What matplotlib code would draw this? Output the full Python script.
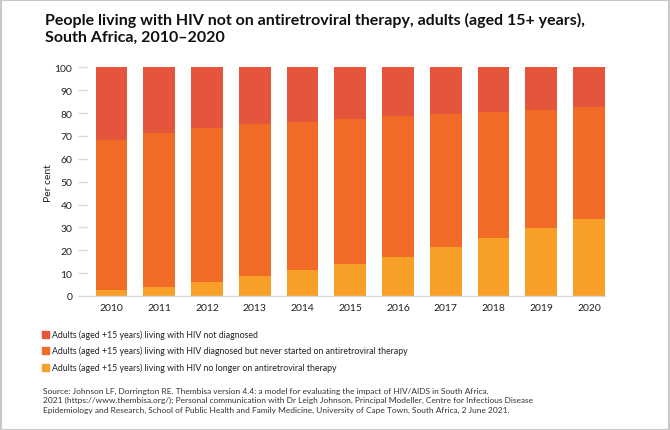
import numpy as np
import matplotlib.pyplot as plt
from matplotlib.patches import Rectangle

plt.rcParams['font.family'] = ['Lato', 'DejaVu Sans']

years = ['2010', '2011', '2012', '2013', '2014', '2015', '2016', '2017', '2018', '2019', '2020']
# cumulative tops
no_longer = [2.8, 4.1, 6.3, 8.6, 11.4, 14.0, 17.2, 21.4, 25.5, 29.7, 33.8]
diag_top = [68.4, 71.4, 73.5, 75.2, 76.1, 77.4, 78.9, 79.7, 80.3, 81.3, 82.7]
never_started = [d - n for d, n in zip(diag_top, no_longer)]
not_diagnosed = [100 - d for d in diag_top]

c_red = '#E5553B'
c_orange = '#F06C26'
c_yellow = '#F79F26'

labels = [
    'Adults (aged +15 years) living with HIV not diagnosed',
    'Adults (aged +15 years) living with HIV diagnosed but never started on antiretroviral therapy',
    'Adults (aged +15 years) living with HIV no longer on antiretroviral therapy',
]

fig = plt.figure(figsize=(6.7, 4.31), dpi=100)
ax = fig.add_axes([87 / 670, 1 - 297 / 431, (605 - 87) / 670, (297 - 68.3) / 431])

x = np.arange(len(years))
w = 0.66
ax.bar(x, no_longer, w, color=c_yellow)
ax.bar(x, never_started, w, bottom=no_longer, color=c_orange)
ax.bar(x, not_diagnosed, w, bottom=diag_top, color=c_red)

ax.set_xlim(-0.513, 10.335)
ax.set_ylim(0, 100)
ax.set_yticks(range(0, 101, 10))
ax.set_xticks(x)
ax.set_xticklabels(years)
for s in ['top', 'right', 'left']:
    ax.spines[s].set_visible(False)
ax.spines['bottom'].set_color('#d9d9d9')
ax.spines['bottom'].set_linewidth(1)
ax.tick_params(axis='y', length=6.5, color='#d9d9d9', width=1, pad=4,
               labelsize=7.5, labelcolor='#222222')
ax.tick_params(axis='x', length=0, pad=5, labelsize=7.5, labelcolor='#222222')
ax.set_ylabel('Per cent', fontsize=7.5, color='#222222', labelpad=1)

fig.text(45 / 670, 1 - 13 / 431,
         'People living with HIV not on antiretroviral therapy, adults (aged 15+ years),\nSouth Africa, 2010\u20132020',
         fontsize=11.5, fontweight='bold', color='#111111', va='top', ha='left',
         linespacing=1.25)

# legend
for i, (lab, col) in enumerate(zip(labels, [c_red, c_orange, c_yellow])):
    yc = 335 + i * 16.5
    fig.patches.append(Rectangle((42 / 670, 1 - (yc + 3.5) / 431), 7 / 670, 7 / 431,
                                 transform=fig.transFigure, color=col))
    fig.text(52 / 670, 1 - yc / 431, lab, fontsize=6.3, color='#222222',
             va='center', ha='left')

source = ('Source: Johnson LF, Dorrington RE. Thembisa version 4.4: a model for evaluating the impact of HIV/AIDS in South Africa.\n'
          '2021 (https://www.thembisa.org/); Personal communication with Dr Leigh Johnson, Principal Modeller, Centre for Infectious Disease\n'
          'Epidemiology and Research, School of Public Health and Family Medicine, University of Cape Town, South Africa, 2 June 2021.')
fig.text(43 / 670, 1 - 388 / 431, source, fontsize=6.0, color='#333333',
         va='top', ha='left', linespacing=1.35)

# thin frame round the picture
fig.patches.append(Rectangle((0.001, 0.001), 0.997, 0.997, transform=fig.transFigure,
                             fill=False, edgecolor='#c8c8c8', linewidth=1.5))

fig.savefig('out.png', dpi=100)
